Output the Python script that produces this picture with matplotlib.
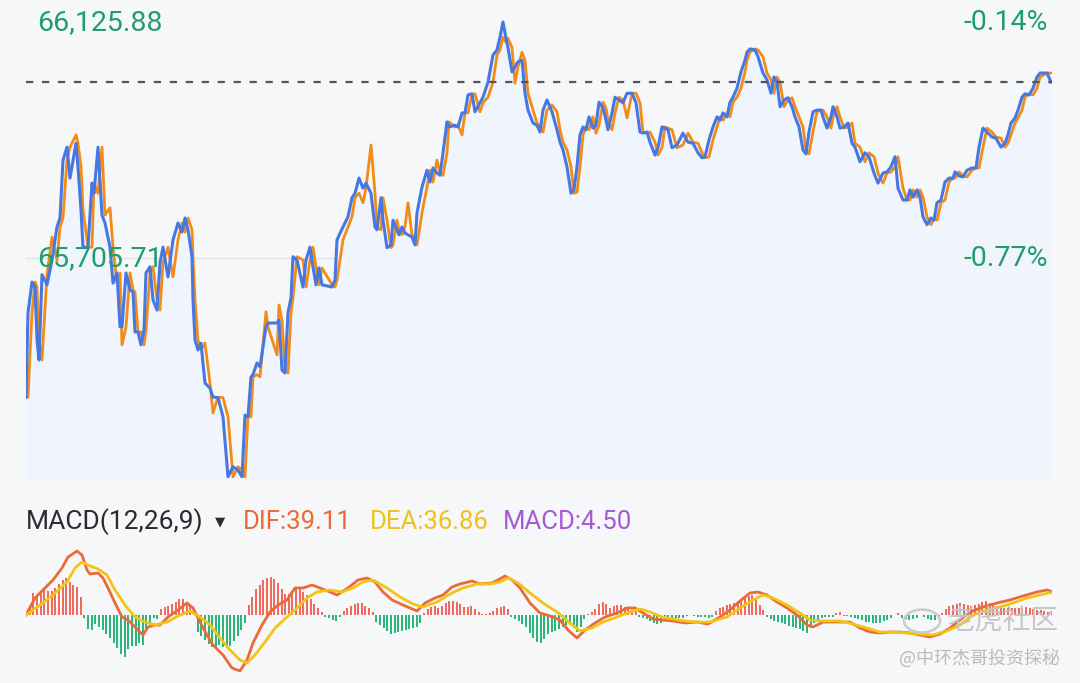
import numpy as np
import matplotlib.pyplot as plt
from matplotlib.patches import Circle

plt.rcParams['font.family'] = ['Roboto', 'DejaVu Sans']
plt.rcParams['lines.scale_dashes'] = False

# intraday price (time in chart minutes from the open)
minute = [0, 2, 6, 9, 11, 13, 16, 21, 26, 31, 34, 37, 41, 44, 50, 52, 55, 57, 62, 66,
          68, 72, 76, 79, 84, 87, 91, 94, 96, 100, 104, 107, 109, 112, 115, 118, 120, 124, 127, 131,
          134, 137, 142, 147, 152, 156, 159, 162, 166, 167, 169, 172, 175, 179, 184, 187, 192, 197, 202, 207,
          212, 216, 219, 222, 225, 227, 231, 234, 240, 242, 251, 253, 256, 259, 262, 265, 267, 271, 277, 280,
          284, 287, 290, 293, 296, 306, 309,
          311, 317, 322, 326, 329, 333, 337, 340, 345, 349, 351, 355, 357, 361, 365, 367, 371, 373, 376, 379,
          382, 386, 389, 391, 396, 401, 404, 407, 411, 414, 417, 421, 423, 429, 432, 436, 439, 442, 446, 449,
          454, 457, 462, 467, 471, 474, 477, 480, 482, 486, 489, 492, 496, 499, 502, 507, 511, 514, 517, 521,
          526, 531, 534, 537, 541, 545, 548, 551, 554, 557, 560, 563, 567, 570, 573, 577, 580, 582, 586, 589,
          593, 597, 601, 606, 610, 614, 617, 621, 624, 629, 632, 636, 639, 642, 646, 651,
          657, 662, 667, 672, 676, 679, 683, 687, 691, 694, 697, 701, 704, 707, 711, 715, 719, 721, 724, 729,
          732, 737, 741, 745, 748, 751, 754, 758, 762, 766, 769, 773, 777, 780, 783, 787, 791, 795, 797, 801,
          805, 807, 811, 814, 818, 822, 826, 829, 834, 839, 843, 848, 852, 857, 861, 865, 869, 872, 877, 881,
          884, 887, 891, 894, 897, 901, 905, 908, 911, 915, 919, 923, 927, 929, 933, 937, 941, 946, 950, 953,
          957, 961, 966, 970, 975, 979, 982, 985, 989, 992, 996, 999, 1003, 1007, 1011, 1014, 1021, 1025]

price = [65458, 65608, 65663, 65654, 65560, 65524, 65676, 65658, 65702, 65761, 65777, 65880, 65903, 65848, 65910, 65868, 65791, 65725, 65725, 65839,
         65821, 65903, 65782, 65768, 65725, 65661, 65679, 65583, 65583, 65679, 65649, 65645, 65574, 65574, 65551, 65578, 65679, 65690, 65631, 65613,
         65697, 65725, 65672, 65738, 65768, 65752, 65777, 65756, 65708, 65631, 65560, 65542, 65554, 65483, 65474, 65458, 65457, 65423, 65316, 65334,
         65328, 65316, 65426, 65423, 65494, 65498, 65519, 65512, 65583, 65590, 65590, 65595, 65506, 65501, 65608, 65635, 65708, 65702, 65654, 65702,
         65725, 65690, 65658, 65688, 65658, 65654, 65667,
         65738, 65761, 65779, 65813, 65821, 65848, 65830, 65839, 65821, 65761, 65756, 65813, 65773, 65724, 65729, 65773, 65756, 65747, 65761, 65750,
         65747, 65743, 65729, 65786, 65832, 65862, 65841, 65866, 65857, 65853, 65893, 65948, 65939, 65942, 65939, 65964, 65964, 65996, 65998, 65966,
         65982, 65992, 66019, 66067, 66076, 66099, 66125.88, 66097, 66080, 66037, 66046, 66055, 66058, 65999, 65969, 65946, 65942, 65930, 65969, 65987,
         65966, 65934, 65912, 65898, 65868, 65821, 65827, 65868, 65925, 65939, 65934, 65957, 65937, 65942, 65983, 65973, 65951, 65934, 65964, 65992,
         65987, 65982, 65999, 65999, 65982, 65930, 65928, 65930, 65912, 65889, 65902, 65939, 65937, 65934, 65902, 65907,
         65928, 65912, 65910, 65893, 65884, 65886, 65916, 65939, 65957, 65951, 65964, 65957, 65983, 65992, 66008, 66037, 66058, 66072, 66078, 66076,
         66064, 66035, 66023, 65999, 66028, 66019, 65975, 65987, 65991, 65975, 65957, 65939, 65898, 65891, 65930, 65966, 65969, 65969, 65957, 65937,
         65957, 65975, 65957, 65937, 65939, 65946, 65910, 65903, 65877, 65893, 65886, 65857, 65839, 65857, 65859, 65868, 65886, 65830, 65809, 65809,
         65827, 65814, 65827, 65814, 65779, 65765, 65777, 65773, 65804, 65809, 65841, 65848, 65848, 65859, 65852, 65850, 65862, 65866, 65866, 65903,
         65937, 65930, 65921, 65919, 65903, 65910, 65925, 65946, 65955, 65969, 65992, 65998, 65996, 66008, 66028, 66035, 66035, 66019]

# second (orange) line, same minutes
avg_line = [65458, 65458, 65608, 65663, 65654, 65560, 65524, 65676, 65743, 65702, 65761, 65777, 65880, 65903, 65925, 65910, 65868, 65791, 65725, 65725,
            65839, 65821, 65903, 65782, 65795, 65725, 65661, 65679, 65551, 65583, 65679, 65649, 65645, 65574, 65574, 65551, 65578, 65679, 65690, 65631,
            65613, 65697, 65725, 65672, 65738, 65768, 65752, 65777, 65756, 65708, 65631, 65560, 65542, 65554, 65483, 65430, 65458, 65457, 65423, 65316,
            65334, 65328, 65316, 65426, 65423, 65494, 65498, 65494, 65610, 65583, 65533, 65622, 65595, 65506, 65501, 65608, 65635, 65708, 65702, 65654,
            65702, 65725, 65690, 65658, 65688, 65658, 65654,
            65667, 65738, 65761, 65779, 65813, 65821, 65804, 65830, 65907, 65821, 65761, 65756, 65813, 65773, 65724, 65729, 65773, 65756, 65747, 65761,
            65804, 65747, 65743, 65729, 65786, 65832, 65862, 65841, 65880, 65857, 65853, 65893, 65948, 65939, 65942, 65925, 65964, 65964, 65996, 65998,
            65966, 65982, 65992, 66019, 66067, 66076, 66099, 66090, 66097, 66080, 66017, 66046, 66072, 66058, 65999, 65969, 65946, 65942, 65930, 65969,
            65978, 65966, 65934, 65912, 65898, 65868, 65821, 65823, 65868, 65925, 65939, 65934, 65957, 65928, 65942, 65983, 65973, 65951, 65934, 65964,
            65992, 65987, 65955, 65999, 65999, 65982, 65930, 65928, 65930, 65912, 65889, 65902, 65939, 65937, 65934, 65902,
            65907, 65928, 65912, 65910, 65893, 65884, 65886, 65916, 65939, 65957, 65951, 65964, 65957, 65983, 65992, 66008, 66037, 66058, 66072, 66078,
            66076, 66064, 66035, 66023, 65999, 66028, 66019, 65975, 65987, 65991, 65975, 65957, 65939, 65898, 65891, 65930, 65966, 65969, 65969, 65957,
            65937, 65957, 65975, 65957, 65937, 65939, 65946, 65910, 65903, 65877, 65893, 65886, 65857, 65839, 65857, 65859, 65868, 65886, 65830, 65809,
            65809, 65827, 65814, 65827, 65814, 65779, 65765, 65777, 65773, 65804, 65809, 65841, 65848, 65848, 65859, 65852, 65850, 65862, 65866, 65866,
            65903, 65937, 65930, 65921, 65919, 65903, 65910, 65925, 65946, 65955, 65969, 65992, 65998, 65996, 66008, 66028, 66035, 66035]

price_ticks = [66125.88, 65705.71]
price_labels = ["66,125.88", "65,705.71"]
pct_labels = ["-0.14%", "-0.77%"]
price_range = (65314.0, 66165.05)

# MACD(12,26,9)
dif_minute = [0, 9, 17, 27, 36, 42, 51, 56, 61, 64, 72, 77, 82, 89, 96, 102, 109, 117, 122, 129,
              134, 142, 152, 161, 167, 174, 181, 187, 197, 206, 214, 221, 227, 236, 244, 252, 261, 269, 277, 286,
              294, 304, 311, 322, 332, 341, 349, 357, 366, 377, 391, 399, 409, 417, 426, 434, 446, 454, 466, 472,
              479, 486, 494, 504, 514, 524, 534, 542, 551, 559, 569, 579, 591, 601, 609, 617, 627, 636, 647, 659,
              671, 682, 694, 704, 714, 724, 732, 741, 751, 761, 771, 781, 787, 797, 811, 824, 834, 844, 854, 864,
              874, 884, 894, 904, 914, 924, 934, 944, 957, 971, 984, 997, 1011, 1021, 1025]
dif = [0, 28.1, 41.3, 57.8, 77.6, 95.7, 105.6, 99.0, 74.3, 67.7, 69.3, 61.1, 44.6, 19.8, -3.3, -8.3, -19.8, -33.0, -19.8, -16.5,
       -16.5, -3.3, 8.3, 19.8, 11.6, -11.6, -33.0, -49.5, -66.0, -87.5, -92.4, -74.3, -46.2, -16.5, 5.0, 16.5, 24.8, 44.6, 44.6, 49.5,
       44.6, 38.0, 33.0, 44.6, 57.8, 61.1, 54.5, 38.0, 24.8, 16.5, 6.6, 19.8, 28.1, 33.0, 46.2, 51.2, 56.1, 51.2, 52.8, 57.8,
       64.4, 57.8, 44.6, 19.8, 3.3, -1.7, -8.3, -24.8, -38.0, -24.8, -13.2, -3.3, 3.3, 11.6, 11.6, 3.3, -6.6, -8.3, -9.9, -13.2,
       -11.6, -14.9, -3.3, 8.3, 23.1, 36.3, 38.0, 33.0, 21.5, 11.6, 0, -16.5, -19.8, -11.6, -11.6, -11.6, -21.5, -28.1, -29.7, -28.1,
       -28.1, -29.7, -33.0, -36.3, -31.4, -21.5, -8.3, 5.0, 13.2, 19.8, 24.8, 31.4, 38.0, 41.3, 39.11]

dea_minute = [0, 14, 27, 41, 49, 56, 62, 72, 81, 89, 99, 109, 119, 129, 141, 152, 164, 174, 184, 194,
              204, 214, 221, 229, 239, 249, 261, 271, 281, 291, 304, 316, 327, 337, 347, 361, 374, 387, 397, 411,
              424, 437, 451, 464, 474, 482, 492, 504, 517, 531, 544, 554, 566, 577, 591, 604, 614, 624, 636, 647,
              659, 671, 684, 701, 714, 727, 737, 747, 761, 774, 784, 797, 814, 827, 841, 854, 867, 881, 894, 907,
              921, 934, 947, 961, 974, 987, 1001, 1014, 1024]
dea = [0, 16.5, 33.0, 54.5, 77.6, 87.5, 82.5, 75.9, 66.0, 41.3, 16.5, -3.3, -11.6, -16.5, -11.6, -1.7, 6.6, -3.3, -16.5, -38.0,
       -57.8, -74.3, -79.2, -66.0, -44.6, -21.5, -3.3, 11.6, 28.1, 38.0, 41.3, 38.0, 44.6, 54.5, 57.8, 44.6, 29.7, 18.2, 13.2, 21.5,
       34.7, 44.6, 51.2, 51.2, 54.5, 61.1, 52.8, 36.3, 19.8, 5.0, -13.2, -26.4, -21.5, -11.6, -3.3, 5.0, 9.9, 5.0, -3.3, -6.6,
       -9.9, -11.6, -11.6, -3.3, 11.6, 24.8, 33.0, 28.1, 16.5, 3.3, -8.3, -9.9, -9.9, -14.9, -21.5, -28.1, -28.1, -29.7, -31.4, -33.0,
       -26.4, -16.5, 0, 8.3, 13.2, 19.8, 28.1, 33.0, 36.86]

macd_hist = [0, 13.2, 36.3, 29.7, 38.0, 42.9, 39.6, 39.6, 44.6, 51.2, 57.8, 61.1, 54.5, 49.5, 46.2, 29.7,
             -5.0, -23.1, -24.8, -14.9, -19.8, -24.8, -31.4, -38.0, -46.2, -54.5, -64.4, -69.3, -56.1, -51.2, -51.2, -46.2, -49.5, -23.1, -13.2, -5.0, -6.6,
             9.9, 13.2, 14.9, 18.2, 21.5, 26.4, 26.4, 21.5, 16.5, 6.6,
             -28.1, -34.7, -41.3, -47.9, -52.8, -54.5, -49.5, -52.8, -54.5, -51.2, -42.9, -34.7, -24.8, -13.2,
             16.5, 29.7, 42.9, 49.5, 57.8, 61.1, 62.7, 59.4, 52.8, 42.9, 34.7, 34.7, 39.6, 44.6, 44.6, 38.0, 33.0, 26.4, 18.2, 11.6, 5.0,
             -3.3, -5.0, -8.3, -9.9, -3.3,
             6.6, 11.6, 14.9, 18.2, 19.8, 19.8, 14.9, 11.6, 5.0,
             -11.6, -16.5, -21.5, -26.4, -31.4, -29.7, -28.1, -26.4, -24.8, -23.1, -21.5, -19.8, -13.2,
             3.3, 9.9, 13.2, 14.9, 11.6, 14.9, 19.8, 23.1, 23.1, 21.5, 18.2, 13.2, 13.2, 14.9, 9.9, 5.0, 1.7, 1.7, 3.3, 6.6, 11.6, 13.2, 14.9, 9.9,
             -3.3, -6.6, -9.9, -14.9, -19.8, -29.7, -38.0, -44.6, -46.2, -39.6, -31.4, -28.1, -26.4, -23.1, -19.8, -16.5, -14.9, -21.5, -28.1, -19.8, -6.6,
             1.7, 5.0, 9.9, 18.2, 21.5, 18.2, 11.6, 14.9, 16.5, 16.5, 13.2, 11.6, 8.3, 6.6,
             -3.3, -5.0, -6.6, -9.9, -13.2, -14.9, -13.2, -8.3, -6.6, -5.0, -5.0, -5.0, -5.0, -1.7, 0, -1.7, -3.3, -3.3, -3.3, -5.0, -3.3,
             6.6, 11.6, 13.2, 16.5, 18.2, 19.8, 23.1, 26.4, 28.1, 31.4, 33.0, 26.4, 16.5, 8.3,
             -3.3, -6.6, -9.9, -11.6, -13.2, -14.9, -18.2, -19.8, -21.5, -23.1, -26.4, -29.7, -21.5, -13.2, -8.3, -5.0,
             -3.3, -3.3, -3.3, 3.3, 5.0, -1.7, -1.7,
             -3.3, -5.0, -6.6, -8.3, -11.6, -11.6, -13.2, -13.2, -13.2, -9.9, -8.3, -5.0, 0, 3.3, -5.0, -6.6, -8.3, -6.6, -5.0, 0, -3.3, -6.6, -8.3, -8.3, -3.3,
             3.3, 9.9, 14.9, 16.5, 18.2, 19.8, 18.2, 16.5, 14.9, 16.5, 18.2, 21.5, 23.1, 19.8, 18.2, 14.9, 13.2, 11.6, 11.6, 11.6, 11.6, 11.6, 11.6, 13.2, 11.6, 9.9, 8.3, 8.3, 6.6, 5.0, 4.5]
macd_range = (-100.7, 113.9)

W, H = 1080, 683
fig = plt.figure(figsize=(W / 100, H / 100), dpi=100, facecolor='#f6f7f9')

# ---- price panel
ax = fig.add_axes([26 / W, 1 - 478 / H, 1026 / W, 478 / H])
ax.set_facecolor('white')
ax.fill_between(minute, price, price_range[0], color='#eff4fd', lw=0)
ax.plot(minute, avg_line, color='#f28c16', lw=2.0, solid_joinstyle='round')
ax.plot(minute, price, color='#4677e2', lw=2.2, solid_joinstyle='round')
ax.axhline(price_ticks[1], color='#dfe2e6', lw=0.9, zorder=0)
ax.axhline(price[-1], color='#50555e', lw=1.6, dashes=(5.2, 6.3))
ax.set_xlim(0, 1026)
ax.set_ylim(*price_range)
ax.axis('off')

for val, lab, pct in zip(price_ticks, price_labels, pct_labels):
    ax.text(11 / 1026, val - 1.5, lab, transform=ax.get_yaxis_transform(), color='#1f9e6a',
            fontsize=20.5, ha='left', va='center')
    ax.text(1022 / 1026, val - 1.5, pct, transform=ax.get_yaxis_transform(), color='#1f9e6a',
            fontsize=20.5, ha='right', va='center')

# ---- MACD panel
mx = fig.add_axes([26 / W, 1 - 676 / H, 1026 / W, 130 / H])
mx.set_facecolor('white')
bar_t = np.linspace(0, 1025.7, len(macd_hist))
bar_colors = ['#ee6c5d' if v >= 0 else '#2db57c' for v in macd_hist]
mx.bar(bar_t, macd_hist, width=2.0, color=bar_colors, lw=0)
mx.plot(dif_minute, dif, color='#ec6a38', lw=2.0, solid_joinstyle='round')
mx.plot(dea_minute, dea, color='#f2c514', lw=2.0, solid_joinstyle='round')
mx.set_xlim(0, 1026)
mx.set_ylim(*macd_range)
mx.axis('off')

row_y = 1 - 522 / H
fig.text(26 / W, row_y, "MACD(12,26,9)", color='#2a2c30', fontsize=19, va='center')
fig.text(215 / W, row_y, "▼", color='#2a2c30', fontsize=9.5, va='center', family='DejaVu Sans')
fig.text(243 / W, row_y, "DIF:39.11", color='#ec6a38', fontsize=18.5, va='center')
fig.text(370 / W, row_y, "DEA:36.86", color='#edc21a', fontsize=18.5, va='center')
fig.text(503 / W, row_y, "MACD:4.50", color='#a659d6', fontsize=18.5, va='center')

# watermark
fig.add_artist(Circle((922 / W, 1 - 621 / H), 18 / W, transform=fig.transFigure,
                      fill=False, ec='#c9cbcf', lw=1.8))
fig.text(1058 / W, 1 - 621 / H, "老虎社区", color='#c2c4c8', fontsize=20, ha='right', va='center',
         family=['Noto Sans CJK SC', 'DejaVu Sans'], alpha=0.95)
fig.text(1060 / W, 1 - 658 / H, "@中环杰哥投资探秘", color='#b8babd', fontsize=13, ha='right', va='center',
         family=['Noto Sans CJK SC', 'DejaVu Sans'])

fig.savefig('out.png', dpi=100, facecolor=fig.get_facecolor())
